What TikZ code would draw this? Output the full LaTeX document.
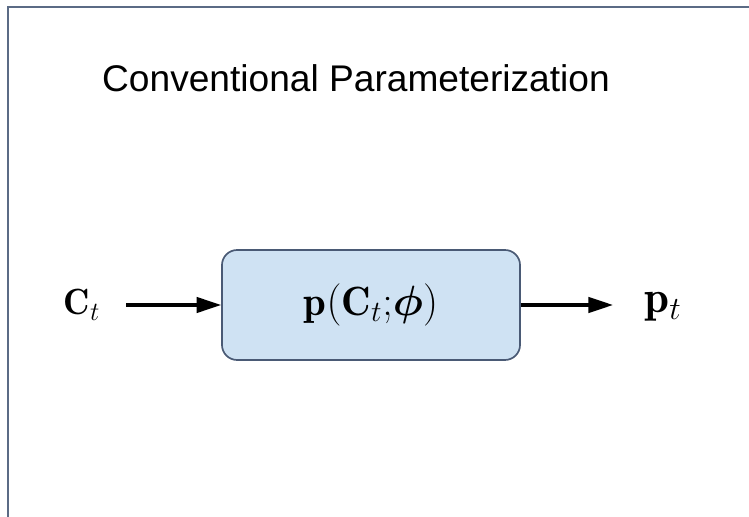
\documentclass[tikz,border=0pt]{standalone}
\usepackage{amsmath}
\usepackage{bm}
\usepackage{fontspec}
\newfontfamily\titlefont{Liberation Sans}
\usepackage{tikz}
\usetikzlibrary{positioning}
\usetikzlibrary{arrows.meta}

\definecolor{frameline}{HTML}{5B6B85}
\definecolor{boxfill}{HTML}{CFE2F3}
\definecolor{boxline}{HTML}{4A5A75}

\begin{document}
\begin{tikzpicture}[x=0.025cm,y=-0.025cm,>={Triangle[length=17.5pt,width=11pt]},
    model/.style={draw=boxline,line width=1.2pt,fill=boxfill,rounded corners=0.38cm,
        minimum width=7.45cm,minimum height=2.75cm,font=\fontsize{24}{28}\selectfont},
    signal/.style={anchor=base,font=\fontsize{24}{28}\selectfont},
    flow/.style={->,line width=2.2pt}]
    \useasboundingbox (0,0) rectangle (749,517);
    % outer frame, cut off at the right and bottom
    \draw [frameline,line width=1.5pt] (8,530) -- (8,7) -- (760,7);
    \node [font=\titlefont\fontsize{26.4}{30}\selectfont] (title) at (356,78) {Conventional Parameterization};
    \node [model] (net) at (371,305) {\raisebox{-3.5pt}{\scalebox{1.21}{$\mathbf{p}(\mathbf{C}_t{;}\bm{\phi})$}}};
    \node [signal] (in) at (82,315) {\scalebox{1.08}{$\mathbf{C}_t$}};
    \node [signal] (out) at (663,313) {\scalebox{1.33}{$\mathbf{p}_t$}};
    \coordinate (instart) at (126,305);
    \coordinate (outend) at (613,305);
    \draw [flow] (instart) -- (net.west |- instart);
    \draw [flow] (net.east |- outend) -- (outend);
\end{tikzpicture}
\end{document}
